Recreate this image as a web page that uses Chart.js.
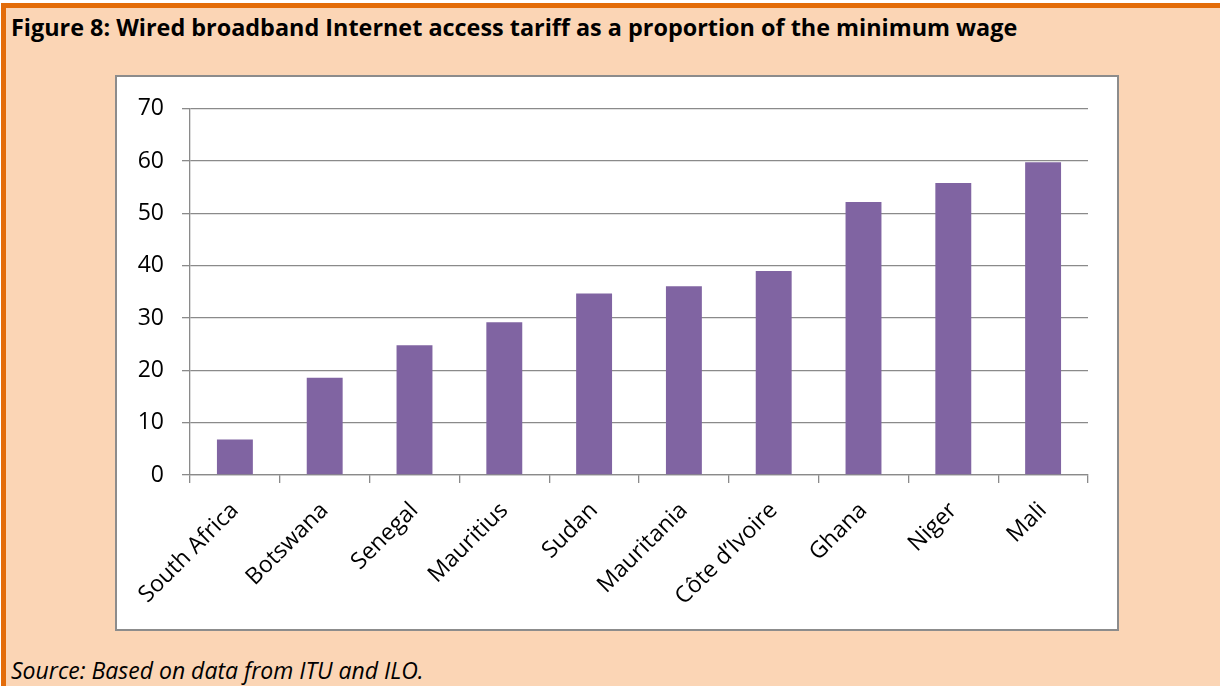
<!DOCTYPE html>
<html>
<head>
<meta charset="utf-8">
<script src="https://cdn.jsdelivr.net/npm/chart.js@4"></script>
<style>
  html, body { margin: 0; padding: 0; width: 1220px; height: 686px; overflow: hidden; background: #fff; }
  #frame {
    position: absolute; left: 1px; top: 3px; width: 1230px; height: 700px;
    background: #fbd5b5; border-left: 5px solid #e36c09; border-top: 5px solid #e36c09;
  }
  #title {
    position: absolute; left: 11px; top: 11px; font-family: "Open Sans", sans-serif;
    font-weight: bold; font-size: 23.4px; color: #000; white-space: nowrap;
  }
  #box {
    position: absolute; left: 115px; top: 75px; width: 1000px; height: 552px;
    background: #fff; border: 2px solid #8c8c8c;
  }
  #source {
    position: absolute; left: 11px; top: 654px; font-family: "Open Sans", sans-serif;
    font-style: italic; font-size: 23px; color: #000; white-space: nowrap;
  }
</style>
</head>
<body>
<div id="frame"></div>
<div id="title">Figure 8: Wired broadband Internet access tariff as a proportion of the minimum wage</div>
<div id="box"><canvas id="chart" width="1000" height="552"></canvas></div>
<div id="source">Source: Based on data from ITU and ILO.</div>
<script>
// values (% of minimum wage)
var countries = ["South Africa", "Botswana", "Senegal", "Mauritius", "Sudan",
                 "Mauritania", "Côte d’Ivoire", "Ghana", "Niger", "Mali"];
var tariffShare = [6.8, 18.6, 24.8, 29.2, 34.7, 36.1, 39.0, 52.2, 55.8, 59.8];
var yTicks = [0, 10, 20, 30, 40, 50, 60, 70];

var gridColour = "#8a8a8a";
var barColour = "#8064a2";

var ctx = document.getElementById("chart").getContext("2d");
var chart = new Chart(ctx, {
    type: 'bar',
    data: {
        labels: countries,
        datasets: [{
            data: tariffShare,
            backgroundColor: barColour,
            borderWidth: 0,
            barPercentage: 0.4,
            categoryPercentage: 1.0
        }]
    },
    options: {
        responsive: false,
        animation: false,
        layout: { padding: { top: 28, right: 29, left: 0, bottom: 0 } },
        plugins: { legend: { display: false }, tooltip: { enabled: false } },
        scales: {
            x: {
                offset: true,
                grid: { display: true, drawOnChartArea: false, offset: true, color: gridColour, lineWidth: 1.3, tickLength: 8 },
                border: { color: gridColour, width: 1.3 },
                ticks: {
                    color: "#000",
                    font: { family: "Open Sans", size: 23 },
                    maxRotation: 45, minRotation: 45, padding: 14
                },
                afterFit: function (scale) { scale.height = 154; }
            },
            y: {
                min: 0, max: 70,
                afterBuildTicks: function (scale) {
                    scale.ticks = yTicks.map(function (v) { return { value: v }; });
                },
                grid: { color: gridColour, lineWidth: 1.3, tickLength: 8 },
                border: { color: gridColour, width: 1.3 },
                ticks: {
                    color: "#000",
                    font: { family: "Open Sans", size: 23 },
                    padding: 18
                },
                afterFit: function (scale) { scale.width = 73; }
            }
        }
    }
});
</script>
</body>
</html>
